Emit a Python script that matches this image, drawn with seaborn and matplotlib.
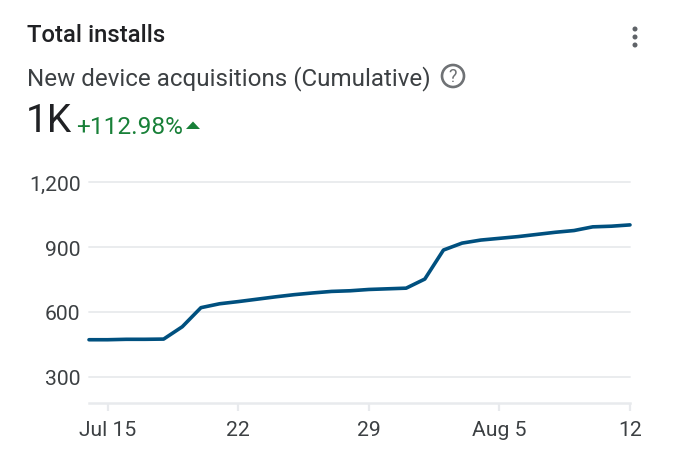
import pandas as pd
import matplotlib
matplotlib.use("Agg")
import matplotlib.pyplot as plt
import matplotlib.dates as mdates
import seaborn as sns
from matplotlib.patches import Circle, Polygon

# chart values (one point per day, Jul 14 to Aug 12)
installs = [472, 472, 474, 474, 475, 532, 620, 638, 648, 659,
            670, 680, 688, 695, 698, 704, 707, 710, 752, 886,
            918, 932, 940, 948, 958, 968, 976, 993, 996, 1002]
dates = pd.date_range("2024-07-14", periods=len(installs), freq="D")

y_ticks = [300, 600, 900, 1200]
x_ticks = ["2024-07-15", "2024-07-22", "2024-07-29", "2024-08-05", "2024-08-12"]
x_labels = ["Jul 15", "22", "29", "Aug 5", "12"]

W, H = 690, 460
LINE = "#00507f"
GRID = "#e8eaed"
DARK = "#202124"
MID = "#3c4043"
GREEN = "#188038"

sns.set_style("white")
plt.rcParams["font.family"] = ["Roboto", "DejaVu Sans"]

df = pd.DataFrame({"date": dates, "installs": installs})

fig = plt.figure(figsize=(W / 100, H / 100), dpi=100)
ax = fig.add_axes([89 / W, 1 - 404 / H, (630 - 89) / W, (404 - 183) / H])

sns.lineplot(data=df, x="date", y="installs", ax=ax, color=LINE, linewidth=2.6,
             solid_joinstyle="round", clip_on=False, zorder=3)

ax.set_xlim(dates[0], dates[-1])
ax.set_ylim(180, 1200)
ax.set_yticks(y_ticks)
ax.set_yticklabels([f"{v:,}" for v in y_ticks])
ax.set_xticks([mdates.date2num(pd.Timestamp(d)) for d in x_ticks])
ax.set_xticklabels(x_labels)
ax.set_xlabel("")
ax.set_ylabel("")

for v in y_ticks:
    ax.axhline(v, color=GRID, linewidth=1.3, zorder=1, clip_on=False)

for s in ["top", "left", "right"]:
    ax.spines[s].set_visible(False)
ax.spines["bottom"].set_color(GRID)
ax.spines["bottom"].set_linewidth(1.8)
ax.tick_params(axis="x", length=6, width=1.6, color=GRID, pad=6,
               labelsize=15.2, labelcolor=MID, bottom=True)
ax.tick_params(axis="y", length=0, pad=6, labelsize=15.2, labelcolor=MID)

# header sits in a pixel-coordinate overlay
hd = fig.add_axes([0, 0, 1, 1], facecolor="none")
hd.set_xlim(0, W)
hd.set_ylim(H, 0)
hd.axis("off")

hd.text(27, 35, "Total installs", fontsize=17.2, color=DARK, va="center", ha="left", fontweight="medium")
hd.text(27, 79, "New device acquisitions (Cumulative)", fontsize=17.4, color=MID, va="center", ha="left")
hd.text(26, 122, "1K", fontsize=28, color=DARK, va="center", ha="left")
hd.text(76, 127.5, "+112.98%", fontsize=17.6, color=GREEN, va="center", ha="left")
hd.add_patch(Polygon([[186, 130], [200, 130], [193, 122.5]], closed=True, color=GREEN, lw=0))

hd.add_patch(Circle((453, 77), 11, fill=False, edgecolor="#6f7275", linewidth=1.9))
hd.text(453, 77.5, "?", fontsize=13, color="#6f7275", va="center", ha="center")

for cy in [30, 38, 46]:
    hd.add_patch(Circle((635, cy), 2.5, color="#5f6368", lw=0))

fig.savefig("out.png", dpi=100)
